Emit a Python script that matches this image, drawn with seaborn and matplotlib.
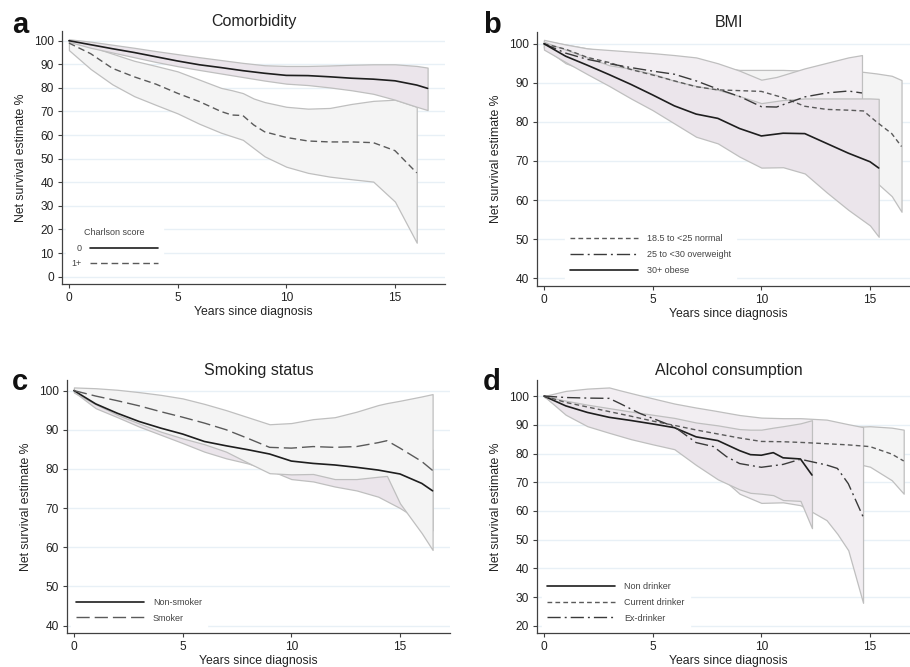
import numpy as np
import pandas as pd
import seaborn as sns
from matplotlib import pyplot as plt

# ---------------- a: Comorbidity (Charlson score) ----------------
a0_t = [0, 1, 2, 3, 4, 5, 6, 7, 8, 9, 10, 11, 12, 13, 14, 15, 16, 16.5]
a0_est = [100, 98.3, 96.6, 95, 93.2, 91.4, 89.8, 88.6, 87.3, 86.2, 85.3, 85.2, 84.7, 84.1, 83.7, 83, 81.2, 79.8]
a0_lo = [99.5, 97, 95, 93, 91, 89.2, 87.6, 86.1, 84.6, 83.1, 81.8, 81.2, 80.2, 79, 77.5, 75, 72, 70.6]
a0_hi = [100.6, 99.6, 98.3, 97, 95.6, 94.3, 93, 91.8, 90.6, 89.6, 89.3, 89.3, 89.5, 89.8, 90, 90, 89.3, 88.6]

a1_t = [0, 1, 2, 3, 4, 5, 6, 7, 7.5, 8, 8.5, 9, 10, 11, 12, 13, 14, 15, 16]
a1_est = [99, 94.5, 88.3, 84.7, 81.6, 77.7, 74.2, 70, 68.5, 68.3, 64.3, 61.4, 59, 57.5, 57.1, 57.1, 56.8, 53.4, 44]
a1_lo = [96, 88, 81.5, 76.5, 72.8, 69.2, 64.8, 61, 59.5, 58, 54.5, 51, 46.6, 44, 42.4, 41.3, 40.3, 31.8, 14.4]
a1_hi = [100, 97.5, 94.5, 91.5, 89.3, 87, 83.5, 80, 79, 77.8, 75.5, 74, 72, 71.2, 71.5, 73.2, 74.5, 75, 72]

# ---------------- b: BMI ----------------
bn_t = [0, 1, 2, 3, 4, 5, 6, 7, 8, 9, 10, 11, 12, 13, 14, 14.7, 15.3, 16, 16.45]
bn_est = [100, 98.6, 96.5, 95.2, 93.4, 92, 90.5, 89, 88.2, 88, 87.8, 86.2, 84, 83.2, 83, 82.8, 80, 77, 73.7]
bn_lo = [99, 95.5, 93, 91, 89.5, 88, 85.5, 83.5, 82.5, 81.5, 80.5, 79, 77, 74.5, 71.5, 68, 64.5, 61, 57]
bn_hi = [100.8, 99.8, 98.8, 98, 97.2, 96.5, 95.5, 94.8, 94, 93.3, 93.3, 93.3, 93.1, 93.1, 93, 92.8, 92.4, 91.8, 90.7]

bo_t = [0, 1, 2, 3, 4, 5, 6, 7, 8, 9, 10, 10.7, 12, 13, 14, 14.63]
bo_est = [100, 97.6, 96, 94.9, 93.9, 93, 92.2, 90.5, 88.4, 86.5, 83.9, 83.8, 86.4, 87.4, 87.9, 87.4]
bo_lo = [99, 95, 93, 91.5, 90, 88, 86.5, 85, 83, 80, 76, 76, 78.5, 79, 79, 78]
bo_hi = [101, 99.8, 98.8, 98.4, 98, 97.6, 97.1, 96.5, 95, 93.1, 90.8, 91.5, 93.7, 95.1, 96.5, 97.1]

bb_t = [0, 1, 2, 3, 4, 5, 6, 7, 8, 9, 10, 11, 12, 13, 14, 15, 15.4]
bb_est = [100, 96.8, 94.5, 92.1, 89.6, 86.9, 84.1, 82, 80.9, 78.3, 76.4, 77.1, 77, 74.5, 72, 69.8, 68.2]
bb_lo = [98.5, 95.3, 92.2, 89.2, 86, 83, 79.6, 76.2, 74.5, 71.1, 68.3, 68.4, 66.8, 62, 57.5, 53.5, 50.6]
bb_hi = [100.5, 98.5, 96.5, 94.5, 93.6, 92.3, 90.5, 89.2, 88.2, 86.6, 84.8, 85.6, 86, 86, 86, 86, 85.9]

# ---------------- c: Smoking status ----------------
cn_t = [0, 1, 2, 3, 4, 5, 6, 7, 8, 9, 10, 11, 12, 13, 14, 15, 16, 16.5]
cn_est = [100, 96.6, 94.2, 92.1, 90.4, 88.9, 87, 85.9, 84.9, 83.8, 82, 81.4, 81, 80.4, 79.7, 78.7, 76.3, 74.4]
cn_lo = [99.7, 95.5, 93.2, 90.8, 88.7, 86.6, 84.4, 82.7, 81.4, 79.7, 77.4, 76.8, 75.5, 74.5, 72.9, 70, 66.5, 64.3]
cn_hi = [100.3, 97.6, 95.3, 93.4, 91.9, 90.6, 88.8, 87.8, 87, 86, 84.3, 83.9, 83.5, 83.1, 82.8, 82.6, 83.8, 84.9]

cs_t = [0, 1, 2, 3, 4, 5, 6, 7, 8, 9, 10, 11, 12, 13, 14, 14.4, 15, 16, 16.5]
cs_est = [100, 98.6, 97.4, 96.1, 94.6, 93.2, 91.7, 90, 87.8, 85.5, 85.3, 85.7, 85.5, 85.7, 86.7, 87.2, 85.3, 81.9, 79.6]
cs_lo = [99.5, 96.5, 93.8, 91.6, 89.5, 87.8, 86.3, 84.4, 81.6, 78.9, 78.6, 78.7, 77.4, 77.4, 78, 78.2, 71.2, 63.6, 59.3]
cs_hi = [100.8, 100.6, 100.2, 99.6, 98.9, 98, 96.6, 95, 93.2, 91.4, 91.7, 92.7, 93.2, 94.6, 96.3, 96.8, 97.4, 98.5, 99.1]

# ---------------- d: Alcohol consumption ----------------
dn_t = [0, 1, 2, 3, 4, 5, 6, 7, 8, 9, 9.5, 10, 10.55, 11, 11.8, 12.33]
dn_est = [100, 96.6, 94.3, 92.6, 91.5, 90.3, 89, 85.8, 84.5, 81, 79.6, 79.4, 80.3, 78.5, 78.1, 72.5]
dn_lo = [100, 93.5, 89.5, 87.2, 85, 83.2, 81.5, 76, 71, 67.5, 66.3, 66, 65.5, 63.8, 63.5, 54]
dn_hi = [100, 98.4, 97, 95.8, 94.6, 93.5, 92.4, 90.8, 89.8, 88.5, 88.3, 88.3, 89, 89.5, 90.5, 91.6]

dc_t = [0, 1, 2, 3, 4, 5, 6, 7, 8, 9, 10, 11, 12, 13, 14, 15, 16, 16.55]
dc_est = [100, 97.8, 96.2, 94.6, 93, 91.3, 89.8, 88.2, 86.8, 85.4, 84.2, 84.1, 83.8, 83.4, 83, 82.4, 79.8, 77.4]
dc_lo = [99.7, 96.8, 95, 92.5, 89.5, 88.2, 86.8, 85.5, 84.5, 83, 81.2, 80, 78.9, 78, 77.1, 75.4, 70.7, 66]
dc_hi = [100.3, 98.8, 97.5, 96.3, 95, 93.5, 92.2, 91, 90, 89.2, 88.4, 88.3, 88.7, 89, 89.2, 89.5, 89, 88.3]

de_t = [0, 1, 2, 3, 3.5, 4.4, 6, 7, 7.8, 8.4, 9, 10, 11, 11.8, 13, 13.5, 14, 14.68]
de_est = [100, 99.5, 99.3, 99.2, 97.4, 94, 89.3, 83.8, 82.4, 78.9, 76.5, 75.2, 76.2, 78, 76, 74.8, 69.5, 58]
de_lo = [100, 94, 90.2, 87.6, 86.5, 85, 82, 77.5, 73, 70, 66, 62.8, 63, 62, 56.8, 52, 46.3, 28]
de_hi = [100, 101.8, 102.6, 103, 102, 100.3, 97.4, 96, 95, 94.2, 93.4, 92.5, 92.3, 92.3, 91.8, 91, 90.2, 89.2]

LILAC = "#ebe5eb"
LILAC2 = "#f2eef2"
GREY = "#f4f4f4"
EDGE = "#bfbfbf"
INK = "#1e1e1e"
MID = "#5a5a5a"
DARK = "#3a3a3a"

SHORT = (0, (3.4, 2.3))
MEDIUM = (0, (4.8, 2.8))
LONG = (0, (9.5, 3.6))
DASHDOT = (0, (9.5, 2.9, 1.4, 2.9))


def band(ax, t, lo, hi, fill):
    ax.fill_between(t, lo, hi, facecolor=fill, edgecolor=EDGE, linewidth=0.9, zorder=2)


def curve(ax, t, est, label, color, ls, lw=1.0):
    df = pd.DataFrame({"t": t, "est": est})
    sns.lineplot(data=df, x="t", y="est", ax=ax, color=color, linewidth=lw,
                 linestyle=ls, label=label, errorbar=None, zorder=4)


def style_axis(ax, title, ylim, yticks):
    ax.set_xlim(-0.32, 17.3)
    ax.set_ylim(*ylim)
    ax.set_xticks([0, 5, 10, 15])
    ax.set_yticks(yticks)
    ax.grid(axis="y", color="#e8f0f6", linewidth=1.0)
    ax.grid(axis="x", visible=False)
    ax.set_axisbelow(True)
    for side in ["top", "right"]:
        ax.spines[side].set_visible(False)
    for side in ["left", "bottom"]:
        ax.spines[side].set_color("#404040")
        ax.spines[side].set_linewidth(0.9)
    ax.tick_params(direction="out", length=3, width=0.8, color="#404040",
                   labelsize=8.6, labelcolor="#222222", pad=3,
                   left=True, bottom=True)
    ax.set_title(title, fontsize=11.5, color="#222222", pad=3.6)
    ax.set_xlabel("Years since diagnosis", fontsize=8.8, color="#222222", labelpad=1.5)
    ax.set_ylabel("Net survival estimate %", fontsize=8.8, color="#222222", labelpad=5)


def legend(ax, order, anchor, **kw):
    handles, labels = ax.get_legend_handles_labels()
    lookup = dict(zip(labels, handles))
    leg = ax.legend([lookup[k] for k in order], order, loc="lower left",
                    bbox_to_anchor=anchor, borderaxespad=0, fontsize=6.5,
                    handlelength=7.5, handletextpad=1.0, labelspacing=0.75,
                    frameon=True, facecolor="white", edgecolor="white",
                    framealpha=1, fancybox=False, borderpad=0.6, **kw)
    for txt in leg.get_texts():
        txt.set_color("#444444")
    return leg


sns.set_theme(style="white")
plt.rcParams["font.family"] = ["Liberation Sans", "DejaVu Sans"]

fig = plt.figure(figsize=(9.1, 6.67), dpi=100)
ax_a = fig.add_axes([0.0681, 0.5742, 0.4209, 0.3793])
ax_b = fig.add_axes([0.5901, 0.5712, 0.4209, 0.3808])
ax_c = fig.add_axes([0.0736, 0.0510, 0.4209, 0.3793])
ax_d = fig.add_axes([0.5901, 0.0510, 0.4209, 0.3793])

# a
band(ax_a, a1_t, a1_lo, a1_hi, GREY)
band(ax_a, a0_t, a0_lo, a0_hi, LILAC)
curve(ax_a, a0_t, a0_est, "0", INK, "-", 1.2)
curve(ax_a, a1_t, a1_est, "1+", MID, MEDIUM, 1.0)
style_axis(ax_a, "Comorbidity", (-3.1, 104.1), range(0, 101, 10))
leg = legend(ax_a, ["0", "1+"], (0.01, 0.04), markerfirst=False,
             title="Charlson score", title_fontsize=6.5)
leg.get_title().set_color("#444444")

# b
band(ax_b, bn_t, bn_lo, bn_hi, GREY)
band(ax_b, bo_t, bo_lo, bo_hi, LILAC2)
band(ax_b, bb_t, bb_lo, bb_hi, LILAC)
curve(ax_b, bn_t, bn_est, "18.5 to <25 normal", MID, SHORT, 1.0)
curve(ax_b, bo_t, bo_est, "25 to <30 overweight", DARK, DASHDOT, 1.0)
curve(ax_b, bb_t, bb_est, "30+ obese", INK, "-", 1.2)
style_axis(ax_b, "BMI", (38.0, 103.0), range(40, 101, 10))
legend(ax_b, ["18.5 to <25 normal", "25 to <30 overweight", "30+ obese"], (0.072, 0.022))

# c
band(ax_c, cn_t, cn_lo, cn_hi, LILAC)
band(ax_c, cs_t, cs_lo, cs_hi, GREY)
curve(ax_c, cn_t, cn_est, "Non-smoker", INK, "-", 1.2)
curve(ax_c, cs_t, cs_est, "Smoker", MID, LONG, 1.0)
style_axis(ax_c, "Smoking status", (38.1, 102.7), range(40, 101, 10))
legend(ax_c, ["Non-smoker", "Smoker"], (0.01, 0.02))

# d
band(ax_d, dc_t, dc_lo, dc_hi, GREY)
band(ax_d, de_t, de_lo, de_hi, LILAC2)
band(ax_d, dn_t, dn_lo, dn_hi, LILAC)
curve(ax_d, dn_t, dn_est, "Non drinker", INK, "-", 1.2)
curve(ax_d, dc_t, dc_est, "Current drinker", MID, SHORT, 1.0)
curve(ax_d, de_t, de_est, "Ex-drinker", DARK, DASHDOT, 1.0)
style_axis(ax_d, "Alcohol consumption", (17.5, 105.6), range(20, 101, 10))
legend(ax_d, ["Non drinker", "Current drinker", "Ex-drinker"], (0.013, 0.02))

# panel letters
for letter, x, y in [("a", 12, 33), ("b", 483, 33), ("c", 12, 390), ("d", 483, 390)]:
    fig.text(x / 910, 1 - y / 667, letter, fontsize=21, fontweight="bold",
             va="baseline", ha="left", color="#111111")

fig.savefig("out.png", dpi=100)
